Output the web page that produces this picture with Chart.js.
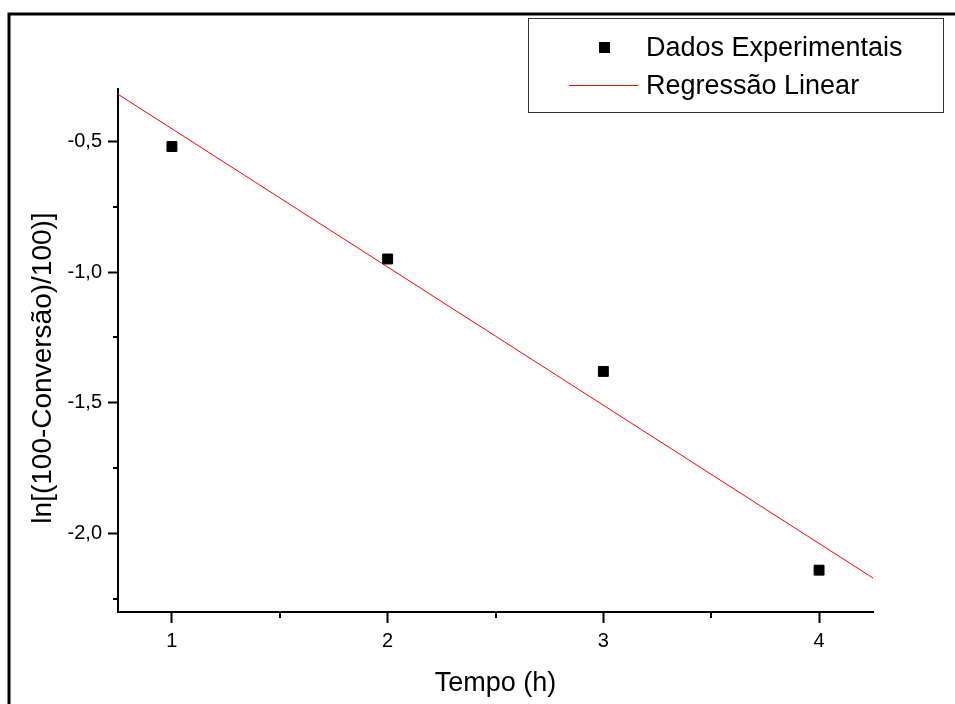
<!DOCTYPE html>
<html lang="pt-BR">
<head>
<meta charset="utf-8">
<title>Regressão Linear - Conversão</title>
<script src="https://cdn.jsdelivr.net/npm/chart.js@4/dist/chart.umd.min.js"></script>
<style>
    html, body { margin: 0; padding: 0; background: #fff; }
    #grafico { display: block; }
</style>
</head>
<body>
<canvas id="grafico" width="955" height="704"></canvas>
<script>
// --- Dados ---
const tempoHoras = [1, 2, 3, 4];
const lnConversao = [-0.52, -0.95, -1.38, -2.14];

// Reta de regressão (extremos)
const regressaoX = [0.75, 4.25];
const regressaoY = [-0.32, -2.17];

// --- Eixos ---
const xTickValues = [1, 2, 3, 4];
const xTickLabels = ['1', '2', '3', '4'];
const xMinorTicks = [1.5, 2.5, 3.5];
const yTickValues = [-0.5, -1.0, -1.5, -2.0];
const yTickLabels = ['-0,5', '-1,0', '-1,5', '-2,0'];
const yMinorTicks = [-0.75, -1.25, -1.75, -2.25];

const xTitulo = 'Tempo (h)';
const yTitulo = 'ln[(100-Conversão)/100)]';

const FONTE = '"Liberation Sans", Arial, sans-serif';

// --- Plugins ---

// Fundo branco e moldura (só topo e lado esquerdo aparecem)
const molduraPlugin = {
    id: 'moldura',
    beforeDraw(chart) {
        const ctx = chart.ctx;
        ctx.save();
        ctx.fillStyle = '#fff';
        ctx.fillRect(0, 0, chart.width, chart.height);
        ctx.strokeStyle = '#000';
        ctx.lineWidth = 3;
        ctx.beginPath();
        ctx.moveTo(9, chart.height);
        ctx.lineTo(9, 14);
        ctx.lineTo(chart.width, 14);
        ctx.stroke();
        ctx.restore();
    }
};

// Ticks menores (o Chart.js não tem ticks menores)
const ticksMenoresPlugin = {
    id: 'ticksMenores',
    afterDraw(chart) {
        const ctx = chart.ctx;
        const x = chart.scales.x;
        const y = chart.scales.y;
        ctx.save();
        ctx.strokeStyle = '#000';
        ctx.lineWidth = 2;
        ctx.beginPath();
        xMinorTicks.forEach(v => {
            const px = Math.round(x.getPixelForValue(v));
            ctx.moveTo(px, x.top);
            ctx.lineTo(px, x.top + 6);
        });
        yMinorTicks.forEach(v => {
            const py = Math.round(y.getPixelForValue(v));
            ctx.moveTo(y.right, py);
            ctx.lineTo(y.right - 5, py);
        });
        ctx.stroke();
        ctx.restore();
    }
};

// Títulos dos eixos
const titulosPlugin = {
    id: 'titulos',
    afterDraw(chart) {
        const ctx = chart.ctx;
        const area = chart.chartArea;
        ctx.save();
        ctx.fillStyle = '#000';
        ctx.textAlign = 'center';
        ctx.textBaseline = 'alphabetic';
        ctx.font = `27px ${FONTE}`;
        ctx.fillText(xTitulo, (area.left + area.right) / 2, 691);

        ctx.font = `28px ${FONTE}`;
        ctx.translate(51, 368);
        ctx.rotate(-Math.PI / 2);
        ctx.fillText(yTitulo, 0, 0);
        ctx.restore();
    }
};

// Legenda em caixa, no canto superior direito
const legendaPlugin = {
    id: 'legendaCaixa',
    afterDraw(chart) {
        const ctx = chart.ctx;
        const pontos = chart.data.datasets[0];
        const reta = chart.data.datasets[1];
        ctx.save();
        ctx.fillStyle = '#fff';
        ctx.fillRect(528, 18, 416, 95);
        ctx.strokeStyle = '#333';
        ctx.lineWidth = 1;
        ctx.strokeRect(528.5, 18.5, 415, 94);

        ctx.fillStyle = '#000';
        ctx.fillRect(599, 42, 11, 11);

        ctx.strokeStyle = reta.borderColor;
        ctx.beginPath();
        ctx.moveTo(569, 85.5);
        ctx.lineTo(638, 85.5);
        ctx.stroke();

        ctx.fillStyle = '#000';
        ctx.font = `27px ${FONTE}`;
        ctx.textAlign = 'left';
        ctx.textBaseline = 'alphabetic';
        ctx.fillText(pontos.label, 646, 56);
        ctx.fillText(reta.label, 646, 94);
        ctx.restore();
    }
};

// --- Gráfico ---
const ctx = document.getElementById('grafico').getContext('2d');

new Chart(ctx, {
    type: 'scatter',
    data: {
        datasets: [
            {
                label: 'Dados Experimentais',
                data: tempoHoras.map((t, i) => ({ x: t, y: lnConversao[i] })),
                pointStyle: 'rect',
                pointRadius: 7,
                pointBorderWidth: 1,
                backgroundColor: '#000',
                borderColor: '#000',
                showLine: false,
                order: 1
            },
            {
                label: 'Regressão Linear',
                data: regressaoX.map((t, i) => ({ x: t, y: regressaoY[i] })),
                showLine: true,
                borderColor: '#ff0000',
                borderWidth: 1,
                pointRadius: 0,
                fill: false,
                order: 2
            }
        ]
    },
    options: {
        responsive: false,
        devicePixelRatio: 1,
        animation: false,
        layout: {
            padding: { top: 89, right: 82, left: 0, bottom: 0 }
        },
        plugins: {
            legend: { display: false },
            tooltip: { enabled: false }
        },
        scales: {
            x: {
                type: 'linear',
                min: 0.75,
                max: 4.25,
                afterBuildTicks: scale => {
                    scale.ticks = xTickValues.map(v => ({ value: v }));
                },
                afterFit: scale => { scale.height = 92; },
                ticks: {
                    callback: (value, index) => xTickLabels[index],
                    color: '#000',
                    font: { family: FONTE, size: 20 },
                    padding: 6,
                    maxRotation: 0
                },
                grid: {
                    drawOnChartArea: false,
                    drawTicks: true,
                    tickLength: 11,
                    tickWidth: 2,
                    tickColor: '#000'
                },
                border: { display: true, color: '#000', width: 2 }
            },
            y: {
                type: 'linear',
                min: -2.3,
                max: -0.3,
                afterBuildTicks: scale => {
                    scale.ticks = yTickValues.map(v => ({ value: v }));
                },
                afterFit: scale => { scale.width = 118; },
                ticks: {
                    callback: (value, index) => yTickLabels[index],
                    color: '#000',
                    font: { family: FONTE, size: 20 },
                    padding: 6
                },
                grid: {
                    drawOnChartArea: false,
                    drawTicks: true,
                    tickLength: 10,
                    tickWidth: 2,
                    tickColor: '#000'
                },
                border: { display: true, color: '#000', width: 2 }
            }
        }
    },
    plugins: [molduraPlugin, ticksMenoresPlugin, titulosPlugin, legendaPlugin]
});
</script>
</body>
</html>
